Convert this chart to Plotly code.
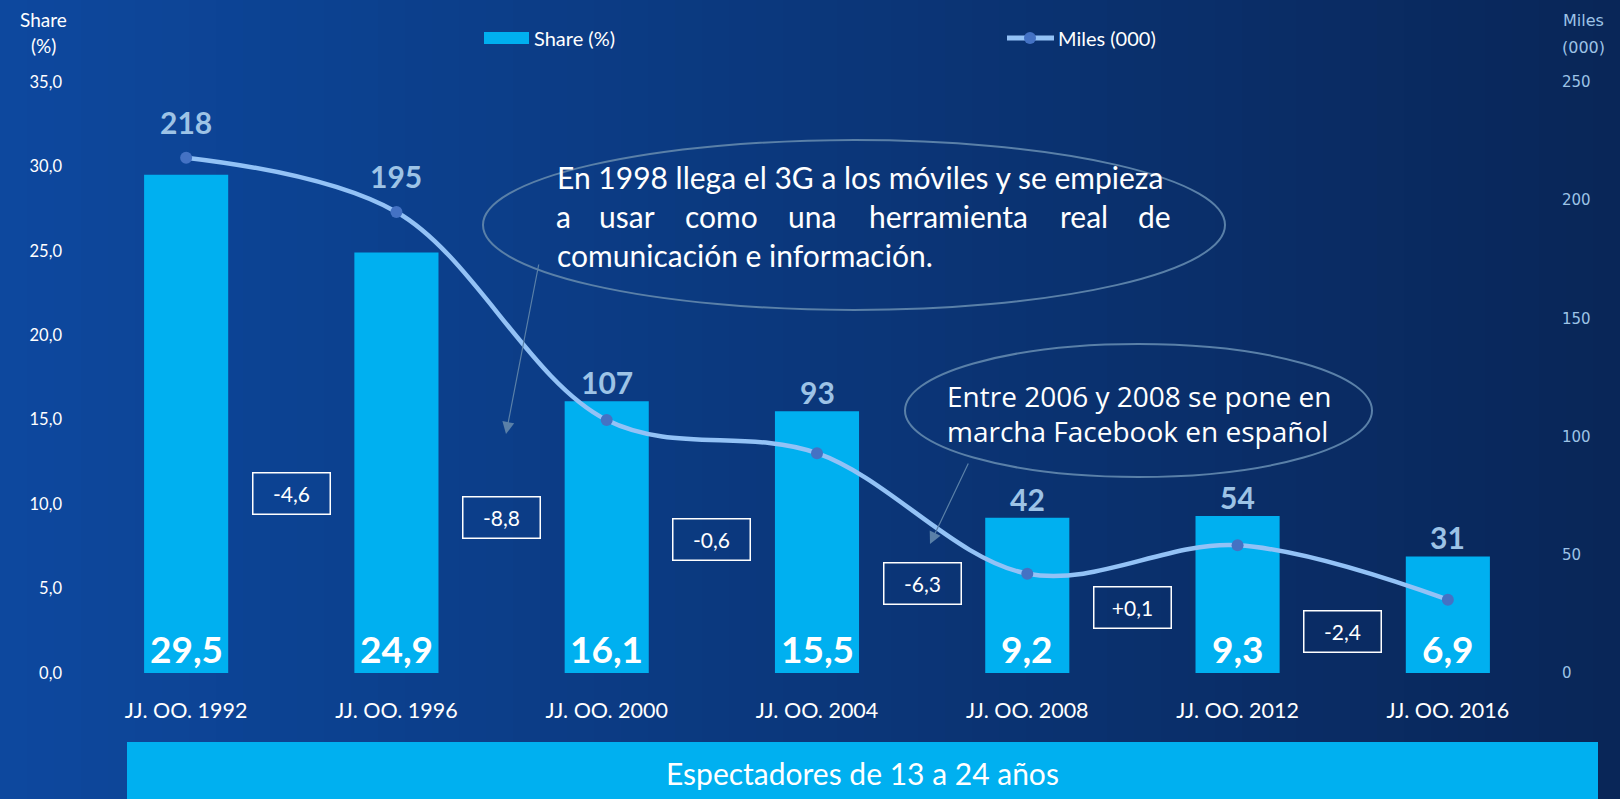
import plotly.graph_objects as go

# ---------------- data ----------------
categories = ["JJ. OO. 1992", "JJ. OO. 1996", "JJ. OO. 2000", "JJ. OO. 2004",
              "JJ. OO. 2008", "JJ. OO. 2012", "JJ. OO. 2016"]
share = [29.5, 24.9, 16.1, 15.5, 9.2, 9.3, 6.9]
miles = [218, 195, 107, 93, 42, 54, 31]
left_ticks = [0, 5, 10, 15, 20, 25, 30, 35]
right_ticks = [0, 50, 100, 150, 200, 250]

note1_lines = ["En 1998 llega el 3G a los móviles y se empieza",
               "a usar como una herramienta real de",
               "comunicación e información."]
note2_lines = ["Entre 2006 y 2008 se pone en", "marcha Facebook en español"]
footer = "Espectadores de 13 a 24 años"

# ---------------- layout constants ----------------
W, H = 1620, 799
PL, PT, PR, PB = 81, 82, 1553, 673
PW, PH = PR - PL, PB - PT
Y1MAX, Y2MAX = 35, 250

def px(x):
    return (x - PL) / PW

def py(y):
    return 1 - (y - PT) / PH

FONT = "Lato, 'Open Sans', sans-serif"
FONT2 = "'Open Sans', Lato, sans-serif"
VFONT = "'DejaVu Sans', Verdana, sans-serif"
CYAN = "#00B0F0"
LINEC = "#93C2F6"
MARKC = "#4472C4"
LBLC = "#9DC3E6"
EDGE = "#5A80A8"

fig = go.Figure()

fig.add_trace(go.Bar(
    x=categories, y=share, name="Share (%)", marker_color=CYAN,
    marker_line_width=0, width=0.4, yaxis="y", showlegend=False,
    hoverinfo="x+y"))

fig.add_trace(go.Scatter(
    x=categories, y=miles, name="Miles (000)", yaxis="y2", mode="lines+markers",
    line=dict(color=LINEC, width=4.5, shape="spline", smoothing=1.0),
    marker=dict(color=MARKC, size=12), showlegend=False))

shapes = []
# background gradient (horizontal)
c0 = (13, 72, 158)
c1 = (9, 38, 88)
N = 60
for i in range(N):
    t = i / (N - 1)
    col = tuple(int(round(c0[k] + (c1[k] - c0[k]) * t)) for k in range(3))
    x0 = W * i / N
    x1 = W * (i + 1) / N + 1
    shapes.append(dict(type="rect", xref="paper", yref="paper",
                       x0=px(x0), x1=px(x1), y0=py(H + 2), y1=py(-2),
                       fillcolor="rgb(%d,%d,%d)" % col, line=dict(width=0),
                       layer="below"))

# footer box
shapes.append(dict(type="rect", xref="paper", yref="paper",
                   x0=px(127), x1=px(1598), y0=py(800), y1=py(742),
                   fillcolor=CYAN, line=dict(width=0), layer="below"))

# ellipses
shapes.append(dict(type="circle", xref="paper", yref="paper",
                   x0=px(483), x1=px(1225), y0=py(310), y1=py(140),
                   line=dict(color=EDGE, width=2), fillcolor="rgba(0,0,0,0)",
                   layer="above"))
shapes.append(dict(type="circle", xref="paper", yref="paper",
                   x0=px(905), x1=px(1372), y0=py(477), y1=py(344),
                   line=dict(color=EDGE, width=2), fillcolor="rgba(0,0,0,0)",
                   layer="above"))

# custom legend
shapes.append(dict(type="rect", xref="paper", yref="paper",
                   x0=px(484), x1=px(529), y0=py(44), y1=py(32),
                   fillcolor=CYAN, line=dict(width=0)))
shapes.append(dict(type="line", xref="paper", yref="paper",
                   x0=px(1007), x1=px(1054), y0=py(38), y1=py(38),
                   line=dict(color=LINEC, width=5)))
shapes.append(dict(type="circle", xref="paper", yref="paper",
                   x0=px(1024), x1=px(1036), y0=py(44), y1=py(32),
                   fillcolor=MARKC, line=dict(width=0)))

ann = []
# legend texts
ann.append(dict(text="Share (%)", xref="paper", yref="paper", x=px(532), y=py(38),
                xanchor="left", yanchor="middle", showarrow=False,
                font=dict(family=FONT, size=20, color="white")))
ann.append(dict(text="Miles (000)", xref="paper", yref="paper", x=px(1056), y=py(38),
                xanchor="left", yanchor="middle", showarrow=False,
                font=dict(family=FONT, size=20, color="white")))
# axis titles
for t, yy in [("Share", 19), ("(%)", 45)]:
    ann.append(dict(text=t, xref="paper", yref="paper", x=px(43), y=py(yy),
                    xanchor="center", yanchor="middle", showarrow=False,
                    font=dict(family=FONT, size=19, color="white")))
for t, yy in [("Miles", 21), ("(000)", 47)]:
    ann.append(dict(text=t, xref="paper", yref="paper", x=px(1583), y=py(yy),
                    xanchor="center", yanchor="middle", showarrow=False,
                    font=dict(family=VFONT, size=16, color=LBLC)))

# bar value labels (inside base)
for c, v in zip(categories, share):
    ann.append(dict(text="<b>%s</b>" % ("%.1f" % v).replace(".", ","), x=c, y=0,
                    xref="x", yref="y", yanchor="middle", yshift=25, showarrow=False,
                    font=dict(family=FONT, size=37, color="white")))

# line value labels (above the higher of bar top / point)
for c, s, m in zip(categories, share, miles):
    mp = m * Y1MAX / Y2MAX
    top = max(s, mp)
    shift = 36 if mp > s else 19
    ann.append(dict(text="<b>%d</b>" % m, x=c, y=top, xref="x", yref="y",
                    yanchor="middle", yshift=shift, showarrow=False,
                    font=dict(family=FONT, size=30, color=LBLC)))

# difference boxes
diff_box_y = [493, 517, 539, 583, 607, 631]
for i in range(len(share) - 1):
    d = round(share[i + 1] - share[i], 1)
    txt = ("%+.1f" % d).replace(".", ",")
    ann.append(dict(text=txt, xref="x", yref="paper", x=i + 0.5, y=py(diff_box_y[i]),
                    xanchor="center", yanchor="middle", showarrow=False,
                    width=74, height=38, bordercolor="white", borderwidth=1.5,
                    borderpad=1, font=dict(family=FONT, size=21, color="white")))

# note 1 text
NF = 30
ann.append(dict(text=note1_lines[0], xref="paper", yref="paper", x=px(555), y=py(177),
                xanchor="left", yanchor="middle", showarrow=False,
                font=dict(family=FONT, size=NF, color="white")))
words2 = note1_lines[1].split(" ")
word_centers = [563, 627, 721, 812, 948, 1084, 1154]
for wd, cx in zip(words2, word_centers):
    ann.append(dict(text=wd, xref="paper", yref="paper", x=px(cx), y=py(216),
                    xanchor="center", yanchor="middle", showarrow=False,
                    font=dict(family=FONT, size=NF, color="white")))
ann.append(dict(text=note1_lines[2], xref="paper", yref="paper", x=px(555), y=py(255),
                xanchor="left", yanchor="middle", showarrow=False,
                font=dict(family=FONT, size=NF, color="white")))
# note 2 text
for ln, yy in zip(note2_lines, [396, 431]):
    ann.append(dict(text=ln, xref="paper", yref="paper", x=px(945), y=py(yy),
                    xanchor="left", yanchor="middle", showarrow=False,
                    font=dict(family=FONT2, size=28, color="white")))

# arrows
for (hx, hy, tx, ty) in [(506, 434, 539, 263), (930, 544, 969, 462)]:
    ann.append(dict(text="", xref="paper", yref="paper", x=px(hx), y=py(hy),
                    ax=tx - hx, ay=ty - hy, axref="pixel", ayref="pixel",
                    showarrow=True, arrowhead=2, arrowsize=2, arrowwidth=1.2,
                    arrowcolor=EDGE))

# footer text
ann.append(dict(text=footer, xref="paper", yref="paper", x=px(862), y=py(773),
                xanchor="center", yanchor="middle", showarrow=False,
                font=dict(family=FONT, size=30, color="white")))

fig.update_layout(
    width=W, height=H, autosize=False,
    margin=dict(l=PL, r=W - PR, t=PT, b=H - PB, pad=0),
    paper_bgcolor="rgb(11,55,120)", plot_bgcolor="rgba(0,0,0,0)",
    separators=",.",
    shapes=shapes, annotations=ann,
    xaxis=dict(showgrid=False, zeroline=False, showline=False, ticks="",
               tickfont=dict(family=FONT, size=21.5, color="white"),
               ticklabelstandoff=22, range=[-0.5, 6.5]),
    yaxis=dict(range=[0, Y1MAX], tickvals=left_ticks, tickformat=".1f",
               showgrid=False, zeroline=False, showline=False, ticks="",
               tickfont=dict(family=FONT, size=16.5, color="white"),
               ticklabelstandoff=18),
    yaxis2=dict(range=[0, Y2MAX], tickvals=right_ticks, tickformat="d",
                overlaying="y", side="right", showgrid=False, zeroline=False,
                showline=False, ticks="",
                tickfont=dict(family=VFONT, size=15, color=LBLC),
                ticklabelstandoff=8),
    showlegend=False,
)

fig.write_html("out.html",
               config={"displayModeBar": False},
               post_script="document.body.style.margin='0';"
                           "document.body.style.overflow='hidden';")
